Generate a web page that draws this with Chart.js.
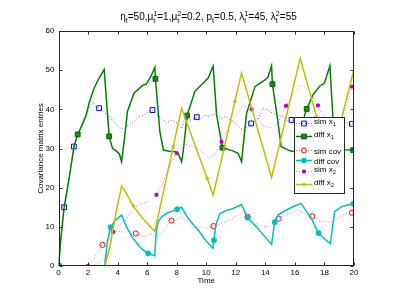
<!DOCTYPE html>
<html lang="en">
<head>
<meta charset="UTF-8" />
<title>Covariance matrix entries</title>
<script src="https://cdn.jsdelivr.net/npm/chart.js"></script>
<style>
  html, body { margin: 0; padding: 0; background: #fff; }
  #wrap { width: 399px; height: 308px; }
</style>
</head>
<body>
<div id="wrap"><canvas id="covChart" width="399" height="308"></canvas></div>
<script>
  // axis ticks
  const xTicks = [0, 2, 4, 6, 8, 10, 12, 14, 16, 18, 20];
  const yTicks = [0, 10, 20, 30, 40, 50, 60];

  // [time, value]
  const simX1 = [[0,0],[0.38,15],[0.72,22.6],[1.04,30.5],[1.35,34],[1.7,37.5],[2.05,40],[2.34,41.9],[2.55,40.6],[2.75,40.3],
    [3.1,39.2],[3.47,38.1],[3.8,36.5],[4.27,34.9],[4.6,35.6],[5.05,36.8],[5.4,38],[5.73,38.5],[6.05,39.3],[6.36,39.8],
    [6.7,38.6],[6.97,37.8],[7.31,36.5],[7.6,37.2],[7.87,36.9],[8.1,36.3],[8.33,35.1],[8.55,37.6],[8.9,37.2],[9.36,38],
    [9.6,37.5],[9.9,38.5],[10.2,38.2],[10.47,38.8],[10.75,38.3],[11.03,37.8],[11.37,38.2],[11.6,37.3],[11.94,36.5],[12.2,35.6],
    [12.5,34.8],[12.8,35.6],[13.04,36.4],[13.5,37.5],[13.83,40.3],[14.08,40],[14.5,39],[14.87,38.5],[15.19,38.2],[15.5,37],
    [15.77,37.3],[16.1,37],[16.5,38],[17,37.5],[17.5,38.5],[18,37],[18.5,36.8],[19,37.5],[19.4,36.8],[19.86,36.3],[20,36.6]];
  const diffX1 = [[0,0],[0.16,7],[0.38,15],[0.72,22.4],[1.05,30.5],[1.3,33.6],[1.6,36],[1.85,38.2],[2.07,41.6],[2.41,45.4],
    [2.75,48],[3.09,50.2],[3.43,33.1],[3.65,30.1],[3.95,29.2],[4.12,28.6],[4.27,26.6],[4.45,32],[4.67,39.5],[5.12,44.2],
    [5.69,46.1],[5.96,46.5],[6.25,48.4],[6.52,50.7],[6.56,47.8],[6.86,34.3],[7.1,29.6],[7.5,29.3],[7.9,29.2],[8.1,28.7],
    [8.33,26.6],[8.44,29.3],[8.7,38.4],[9.23,44.6],[9.9,47.1],[10.13,48],[10.47,51],[10.7,38.6],[11.1,30.2],[11.8,29.4],
    [12.15,28.8],[12.39,26.6],[12.73,39],[13.3,45.8],[13.97,47.5],[14.17,48.2],[14.42,51.1],[14.48,46.4],[14.85,36.9],[15.07,30.5],
    [15.66,29.4],[16.1,29.1],[16.35,26.6],[16.66,38.6],[16.8,40.1],[17.22,43.7],[17.67,45.9],[18,46.7],[18.37,51.1],[18.6,36],
    [18.85,30.5],[19.4,29.7],[19.95,29.6],[20,29.6]];
  const simCov = [[0,0],[2,0],[2.34,1.5],[2.65,3.5],[2.98,5.4],[3.25,6.6],[3.7,8.8],[4.1,8.9],[4.44,8.6],[4.8,8.9],
    [5.23,8.3],[5.5,7.9],[5.8,7.5],[6.1,8],[6.36,8.3],[6.63,7.3],[6.9,8],[7.2,9.4],[7.65,11.6],[8,11.9],
    [8.33,12.6],[8.6,11.8],[9.12,9.8],[9.57,10],[10,9.6],[10.49,10.2],[10.9,10.6],[11.26,11.3],[11.6,11.8],[11.94,12.6],
    [12.2,13],[12.43,13.9],[12.8,12.6],[13.1,11.8],[13.52,10.5],[14.08,10],[14.28,10],[14.6,11.2],[14.9,12.1],[15.43,13],
    [15.8,13.6],[16.11,14.5],[16.56,13.6],[17.17,12.7],[17.69,11.6],[18,11.4],[18.35,11.2],[18.6,11.3],[19.05,12.6],[19.5,13.4],
    [19.86,13.6],[20,13.9]];
  const diffCov = [[0,0],[3.12,0],[3.3,6],[3.52,9.9],[3.8,11.5],[4.27,13],[4.6,10],[5,7.3],[5.23,6.2],[5.6,4.5],
    [6.07,3.2],[6.52,2.6],[6.6,8],[6.74,11.3],[7,12.6],[7.31,13.4],[7.7,14],[8.03,14.5],[8.33,15],[8.8,12],
    [9.45,9.2],[10,6.4],[10.45,4.5],[10.52,6.6],[10.65,10.5],[10.92,13.4],[11.4,14.2],[11.82,14.7],[12.39,15.7],[12.8,12.3],
    [13.4,10],[13.97,7.5],[14.42,5.5],[14.63,11.2],[14.85,13],[15.41,14.3],[15.9,15.2],[16.42,16],[17.1,12.2],[17.6,8.4],
    [18,6.9],[18.4,5.7],[18.69,13.9],[19.13,15.1],[19.5,15.5],[19.95,15.9],[20,15.9]];
  const simX2 = [[0,0],[2,0],[2.5,0.3],[2.8,0.8],[3.2,2.5],[3.47,4.5],[3.7,8.7],[4.1,10.5],[4.6,12],[5,14.5],
    [5.5,15.8],[5.91,16.3],[6.2,16.5],[6.63,18.2],[7,20.5],[7.4,24.5],[8,28.8],[8.55,31.1],[9,30.6],[9.57,29.6],
    [10.2,27.6],[10.6,28.5],[11.03,31.7],[11.4,34.5],[11.82,37.3],[12.5,41.1],[13.07,40],[13.5,37.5],[13.83,35.8],[14.5,35.2],
    [14.9,37],[15.4,40.9],[15.9,44],[16.4,46.2],[17,44.6],[17.56,41],[18,38],[18.4,36],[19,36.4],[19.4,39.5],
    [19.86,45.8],[20,46.3]];
  const diffX2 = [[0,0],[3.15,0],[3.47,4.9],[3.93,14.3],[4.27,20.4],[4.6,18.5],[5.05,15.4],[5.6,12.6],[6.1,10.5],[6.52,8.8],
    [7.76,30.4],[8.33,40.3],[10.06,22.4],[10.47,18.1],[11.94,42],[12.39,49.3],[14.42,22.6],[16.36,53],[18.37,26],[20,50.2]];

  // times that carry a marker
  const simX1Marks = [0, 0.38, 1.04, 2.75, 6.36, 9.36, 13.04, 15.77, 19.86];
  const diffX1Marks = [0, 1.3, 3.43, 6.56, 8.7, 11.1, 14.48, 16.8, 19.95];
  const simCovMarks = [0, 2.98, 5.23, 7.65, 10.49, 12.8, 14.9, 17.17, 19.86];
  const diffCovMarks = [0, 3.52, 6.07, 8.03, 10.52, 12.8, 14.63, 17.6, 19.95];
  const simX2Marks = [0, 2, 3.7, 6.63, 8, 11.03, 13.07, 15.4, 17.56, 19.86];
  const diffX2Marks = [0, 5.05, 7.76, 10.06, 11.94];

  const legendLabels = [['sim x', '1'], ['diff x', '1'], ['sim cov', ''], ['diff cov', ''], ['sim x', '2'], ['diff x', '2']];

  const regular = "'Liberation Sans', Arial, sans-serif";
  // use the narrow cut if it is installed, otherwise a smaller regular face
  const probe = document.createElement('canvas').getContext('2d');
  probe.font = "20px 'Liberation Sans Narrow', monospace";
  const wNarrow = probe.measureText('Covariance 0123').width;
  probe.font = "20px 'Liberation Sans', monospace";
  const wReg = probe.measureText('Covariance 0123').width;
  const hasNarrow = wNarrow < wReg * 0.9;
  const narrow = hasNarrow ? "'Liberation Sans Narrow', 'Liberation Sans', Arial, sans-serif" : regular;
  const labelSize = hasNarrow ? 9 : 8;

  Chart.defaults.font.family = narrow;
  Chart.defaults.font.size = labelSize;
  Chart.defaults.color = '#000';

  function series(label, pts, marks, color, opts) {
    return Object.assign({
      label: label,
      data: pts.map(p => ({ x: p[0], y: p[1] })),
      borderColor: color,
      pointBorderColor: color,
      pointBackgroundColor: color,
      borderWidth: 1.5,
      pointBorderWidth: 1,
      pointStyle: 'rect',
      markSize: 3.4,
      pointRadius: c => (c.raw && marks.includes(c.raw.x)) ? (opts.markSize || 3.4) : 0,
      pointHoverRadius: 0,
      tension: 0,
      fill: false
    }, opts);
  }

  const datasets = [
    series('sim x1', simX1, simX1Marks, '#0000ff', { borderColor: 'rgba(40,40,255,0.75)', borderWidth: 1, borderDash: [1, 2], pointBackgroundColor: 'rgba(0,0,0,0)', order: 6 }),
    series('diff x1', diffX1, diffX1Marks, '#008000', { pointBackgroundColor: '#1a8c1a', pointBorderColor: '#006000', order: 5 }),
    series('sim cov', simCov, simCovMarks, '#ff0000', { borderColor: 'rgba(255,60,60,0.7)', borderWidth: 1, borderDash: [1, 2], pointStyle: 'circle', pointBackgroundColor: 'rgba(0,0,0,0)', markSize: 2.6, order: 4 }),
    series('diff cov', diffCov, diffCovMarks, '#00bfbf', { pointStyle: 'circle', markSize: 2.5, order: 3 }),
    series('sim x2', simX2, simX2Marks, '#bf00bf', { borderColor: 'rgba(210,60,210,0.7)', borderWidth: 1, borderDash: [1, 2], markSize: 2, order: 2 }),
    series('diff x2', diffX2, diffX2Marks, '#bfbf00', { pointStyle: 'circle', markSize: 1.3, order: 1 })
  ];

  // text with stacked sub/superscripts, parts = [{t, sub, sup}]
  function richWidth(ctx, parts, size, fam) {
    let w = 0;
    parts.forEach(p => {
      ctx.font = size + 'px ' + fam;
      w += ctx.measureText(p.t).width;
      ctx.font = (size * 0.72) + 'px ' + fam;
      w += Math.max(p.sub ? ctx.measureText(p.sub).width : 0, p.sup ? ctx.measureText(p.sup).width : 0);
    });
    return w;
  }
  function drawRich(ctx, parts, x, y, size, fam) {
    ctx.textAlign = 'left';
    ctx.textBaseline = 'alphabetic';
    parts.forEach(p => {
      ctx.font = size + 'px ' + fam;
      ctx.fillText(p.t, x, y);
      x += ctx.measureText(p.t).width;
      ctx.font = (size * 0.72) + 'px ' + fam;
      let sw = 0;
      if (p.sub) { ctx.fillText(p.sub, x, y + size * 0.3); sw = ctx.measureText(p.sub).width; }
      if (p.sup) { ctx.fillText(p.sup, x, y - size * 0.42); sw = Math.max(sw, ctx.measureText(p.sup).width); }
      x += sw;
    });
  }

  const titleParts = [
    { t: 'η', sub: 't' }, { t: '=50,μ', sub: 't', sup: '1' }, { t: '=1,μ', sub: 't', sup: '2' },
    { t: '=0.2, p', sub: 't' }, { t: '=0.5, λ', sub: 't', sup: '1' }, { t: '=45, λ', sub: 't', sup: '2' }, { t: '=55' }
  ];

  const matlabFrame = {
    id: 'matlabFrame',
    afterDatasetsDraw(chart) {
      const { ctx, chartArea: a, scales } = chart;
      ctx.save();
      ctx.strokeStyle = '#262626';
      ctx.lineWidth = 1;
      const L = Math.round(a.left) + 0.5, R = Math.round(a.right) - 0.5;
      const T = Math.round(a.top) + 0.5, B = Math.round(a.bottom) - 0.5;
      ctx.strokeRect(L, T, R - L, B - T);
      ctx.beginPath();
      xTicks.forEach(v => {
        const px = Math.round(scales.x.getPixelForValue(v)) + 0.5;
        ctx.moveTo(px, B); ctx.lineTo(px, B - 3);
        ctx.moveTo(px, T); ctx.lineTo(px, T + 3);
      });
      yTicks.forEach(v => {
        const py = Math.round(scales.y.getPixelForValue(v)) + 0.5;
        ctx.moveTo(L, py); ctx.lineTo(L + 3, py);
        ctx.moveTo(R, py); ctx.lineTo(R - 3, py);
      });
      ctx.stroke();

      // legend box
      const lx = 294.5, ly = 117.5, lw = 50, lh = 76;
      ctx.fillStyle = '#fff';
      ctx.fillRect(lx, ly, lw, lh);
      ctx.strokeRect(lx, ly, lw, lh);
      const rows = [123.5, 136.5, 150.5, 160.5, 171.5, 184.5];
      chart.data.datasets.forEach((ds, i) => {
        const yy = rows[i];
        ctx.save();
        ctx.strokeStyle = ds.borderColor;
        ctx.lineWidth = ds.borderWidth;
        ctx.setLineDash(ds.borderDash || []);
        ctx.beginPath();
        ctx.moveTo(296, yy); ctx.lineTo(312, yy);
        ctx.stroke();
        ctx.setLineDash([]);
        const r = ds.markSize;
        ctx.fillStyle = ds.pointBackgroundColor;
        ctx.strokeStyle = ds.pointBorderColor;
        ctx.lineWidth = 1;
        ctx.beginPath();
        if (ds.pointStyle === 'circle') {
          ctx.arc(304, yy, r, 0, Math.PI * 2);
        } else {
          const s = r * Math.SQRT1_2;
          ctx.rect(304 - s, yy - s, 2 * s, 2 * s);
        }
        ctx.fill(); ctx.stroke();
        ctx.restore();
        const lab = legendLabels[i];
        ctx.fillStyle = '#000';
        const ty = lab[1] ? yy + 0.5 : yy + 3.5;
        drawRich(ctx, [{ t: lab[0], sub: lab[1] }], 314, ty, labelSize, narrow);
      });
      ctx.restore();
    },
    afterDraw(chart) {
      const { ctx, chartArea: a } = chart;
      ctx.save();
      ctx.fillStyle = '#000';
      const tw = richWidth(ctx, titleParts, 10, regular);
      drawRich(ctx, titleParts, 208.5 - tw / 2, 20, 10, regular);
      ctx.font = labelSize + 'px ' + narrow;
      ctx.textAlign = 'center';
      ctx.textBaseline = 'middle';
      ctx.fillText('Time', (a.left + a.right) / 2, 281);
      ctx.translate(41, (a.top + a.bottom) / 2);
      ctx.rotate(-Math.PI / 2);
      ctx.fillText('Covariance matrix entries', 0, 0);
      ctx.restore();
    }
  };

  new Chart(document.getElementById('covChart'), {
    type: 'line',
    data: { datasets: datasets },
    options: {
      responsive: false,
      animation: false,
      devicePixelRatio: 1,
      layout: { padding: { top: 31, right: 45, left: 0, bottom: 0 } },
      plugins: { legend: { display: false }, tooltip: { enabled: false }, title: { display: false } },
      scales: {
        x: {
          type: 'linear', min: 0, max: 20,
          grid: { display: false, drawTicks: false }, border: { display: false },
          ticks: { padding: 2, maxRotation: 0 },
          afterBuildTicks: s => { s.ticks = xTicks.map(v => ({ value: v })); },
          afterFit: s => { s.height = 42; }
        },
        y: {
          type: 'linear', min: 0, max: 60,
          grid: { display: false, drawTicks: false }, border: { display: false },
          ticks: { padding: 4 },
          afterBuildTicks: s => { s.ticks = yTicks.map(v => ({ value: v })); },
          afterFit: s => { s.width = 58.5; }
        }
      }
    },
    plugins: [matlabFrame]
  });
</script>
</body>
</html>
